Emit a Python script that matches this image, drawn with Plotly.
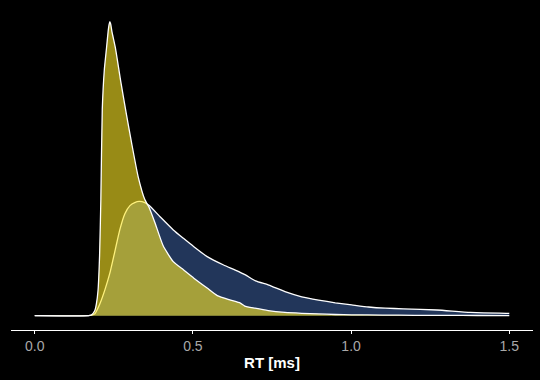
import plotly.graph_objects as go

# Sharp (yellow) distribution: RT values and density
rt_a = [0.000, 0.170, 0.180, 0.190, 0.195, 0.200, 0.205, 0.209, 0.2135, 0.220, 0.227, 0.232,
        0.235, 0.2375, 0.240, 0.244, 0.255, 0.272, 0.290, 0.306, 0.327, 0.348, 0.362, 0.380,
        0.406, 0.438, 0.470, 0.503, 0.545, 0.577, 0.619, 0.650, 0.664, 0.696, 0.738, 0.791,
        0.844, 0.897, 0.950, 1.002, 1.100, 1.200, 1.300, 1.400, 1.500]
dens_a = [0, 0, 0.03, 0.17, 0.40, 0.83, 2.00, 3.87, 6.87, 8.20, 8.93, 9.47,
          9.70, 9.80, 9.73, 9.47, 8.93, 7.80, 6.70, 5.77, 4.63, 3.87, 3.60, 3.10,
          2.33, 1.80, 1.53, 1.25, 0.92, 0.67, 0.52, 0.42, 0.32, 0.25, 0.17, 0.11,
          0.08, 0.06, 0.04, 0.03, 0.02, 0.013, 0.01, 0.007, 0.003]

# Broad (navy) distribution
rt_b = [0.000, 0.170, 0.180, 0.190, 0.206, 0.222, 0.237, 0.253, 0.269, 0.285, 0.301, 0.316,
        0.330, 0.348, 0.362, 0.396, 0.438, 0.470, 0.503, 0.545, 0.597, 0.634, 0.666, 0.698,
        0.740, 0.791, 0.844, 0.897, 0.950, 1.002, 1.055, 1.108, 1.165, 1.271, 1.377, 1.493, 1.500]
dens_b = [0, 0, 0.017, 0.067, 0.40, 0.87, 1.40, 2.13, 2.87, 3.40, 3.67, 3.77,
          3.81, 3.77, 3.67, 3.30, 2.86, 2.58, 2.30, 1.97, 1.69, 1.52, 1.36, 1.16,
          1.02, 0.80, 0.63, 0.52, 0.43, 0.36, 0.29, 0.25, 0.23, 0.19, 0.11, 0.08, 0.077]

tick_vals = [0.0, 0.5, 1.0, 1.5]
tick_text = ["0.0", "0.5", "1.0", "1.5"]

fig = go.Figure()
fig.add_trace(go.Scatter(x=rt_b, y=dens_b, mode="lines", fill="tozeroy",
                         fillcolor="rgb(34,54,90)",
                         line=dict(color="white", width=1.3, shape="spline", smoothing=0.5),
                         hoverinfo="skip"))
fig.add_trace(go.Scatter(x=rt_a, y=dens_a, mode="lines", fill="tozeroy",
                         fillcolor="rgba(253,231,37,0.6)",
                         line=dict(color="white", width=1.3, shape="spline", smoothing=0.5),
                         hoverinfo="skip"))

fig.update_layout(
    width=540, height=380,
    paper_bgcolor="black", plot_bgcolor="black",
    margin=dict(l=11, r=7, t=5, b=50),
    showlegend=False,
    font=dict(family="Liberation Sans, Arial, sans-serif"),
    xaxis=dict(range=[-0.075, 1.575], showgrid=False, zeroline=False,
               showline=True, linecolor="white", linewidth=1.2,
               ticks="outside", ticklen=3, tickcolor="white", tickwidth=1,
               tickvals=tick_vals, ticktext=tick_text,
               tickfont=dict(color="#a8a8a8", size=14),
               title=dict(text="<b>RT [ms]</b>", font=dict(color="white", size=15),
                          standoff=4)),
    yaxis=dict(range=[-0.477, 10.357], visible=False),
)

fig.write_html("out.html",
               config={"displayModeBar": False},
               post_script="document.body.style.margin='0';document.body.style.background='black';")
